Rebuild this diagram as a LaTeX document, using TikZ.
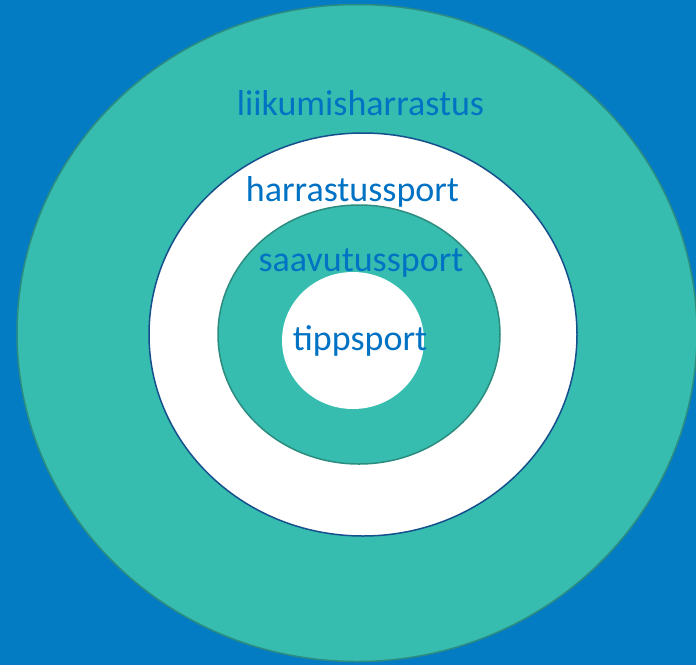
\documentclass[tikz,border=0pt]{standalone}
\usepackage{fontspec}
\setmainfont{Carlito}
\usepackage{xcolor}
\usepackage{tikz}
\usetikzlibrary{shapes.geometric}
\definecolor{bgblue}{RGB}{3,124,196}
\definecolor{ringteal}{RGB}{54,189,175}
\definecolor{tealline}{RGB}{44,140,128}
\definecolor{ringline}{RGB}{22,80,140}
\definecolor{labelblue}{RGB}{0,114,196}

\begin{document}
\begin{tikzpicture}[
    x=1pt, y=-1pt,
    ring/.style={ellipse, inner sep=0pt, line width=1.5pt},
    tealring/.style={ring, fill=ringteal, draw=tealline},
    whitering/.style={ring, fill=white, draw=ringline},
    label/.style={anchor=base, text=labelblue, inner sep=0pt, font=\fontsize{36}{43}\selectfont},
]
    % Background
    \fill[bgblue] (0,0) rectangle (696,665);
    \useasboundingbox (0,0) rectangle (696,665);

    % Rings
    \node[tealring, minimum width=680pt, minimum height=657pt] (liikunta) at (357,333) {};
    \node[whitering, minimum width=428pt, minimum height=403pt] (harrastus) at (363,334.5) {};
    \node[tealring, minimum width=282pt, minimum height=259pt] (saavutus) at (359,334.5) {};
    \node[ring, fill=white, minimum width=142pt, minimum height=137pt] (tipp) at (353,340.5) {};

    % Labels
    \node[label] (liikuntatext) at (360.5,115) {liikumisharrastus};
    \node[label] (harrastustext) at (352.5,201) {harrastussport};
    \node[label] (saavutustext) at (361,271) {saavutussport};
    \node[label] (tipptext) at (360,350) {tippsport};
\end{tikzpicture}
\end{document}
